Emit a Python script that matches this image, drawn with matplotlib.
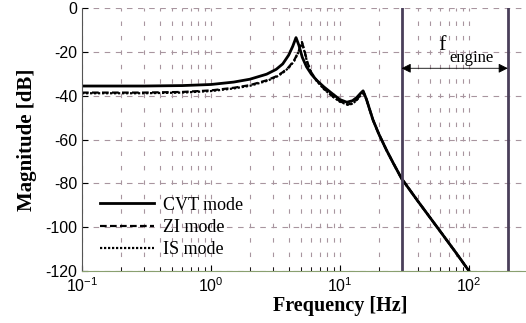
import numpy as np
import matplotlib.pyplot as plt

# frequency response
freq_cvt = [0.1, 0.3, 0.6, 1.0, 1.5, 2.0, 2.7, 3.2, 3.6, 4.0, 4.3, 4.56, 4.8, 5.1,
            5.5, 6.0, 6.6, 7.5, 8.8, 10.0, 11.3, 12.5, 13.5, 14.5, 15.1, 16.0,
            18.0, 20.0, 23.0, 26.0, 30.0, 40.0, 60.0, 80.0, 100.0]
mag_cvt = [-35.6, -35.6, -35.4, -34.9, -33.8, -32.5, -30.2, -28.0, -25.5, -21.5, -17.5, -13.5,
           -17.0, -22.5, -26.8, -30.2, -33.0, -36.0, -39.3, -41.8, -43.0, -42.3, -40.8, -38.8,
           -37.8, -41.5, -51.0, -57.5, -65.0, -71.0, -77.8, -88.0, -102.0, -112.0, -120.0]

freq_zi = [0.1, 0.3, 0.6, 1.0, 1.5, 2.0, 2.7, 3.2, 3.6, 4.0, 4.4, 4.8, 5.07, 5.3,
           5.6, 6.0, 6.6, 7.5, 8.8, 10.0, 11.5, 12.5, 13.5, 14.5, 15.2, 16.0,
           18.0, 20.0, 23.0, 26.0, 30.0, 40.0, 60.0, 80.0, 100.0]
mag_zi = [-38.6, -38.6, -38.3, -37.6, -36.4, -35.2, -33.0, -31.2, -29.3, -27.0, -24.0, -19.5, -15.5,
          -19.5, -25.0, -29.5, -33.0, -36.8, -40.3, -42.6, -44.0, -43.5, -41.8, -39.5,
          -38.3, -41.5, -51.0, -57.5, -65.0, -71.0, -77.8, -88.0, -102.0, -112.0, -120.0]

freq_is = freq_zi
mag_is = [-38.9, -38.9, -38.6, -37.9, -36.7, -35.5, -33.3, -31.5, -29.6, -27.3, -24.3, -19.8, -15.8,
          -19.8, -25.3, -29.8, -33.3, -37.0, -40.5, -42.8, -44.2, -43.7, -42.0, -39.7,
          -38.5, -41.6, -51.0, -57.5, -65.0, -71.0, -77.8, -88.0, -102.0, -112.0, -120.0]

f_low = 30
f_high = 200

xticks = [0.1, 1, 10, 100]
yticks = [0, -20, -40, -60, -80, -100, -120]

serif = ['Liberation Serif', 'DejaVu Serif']
gridcol = '#a8959f'
plt.rcParams['axes.unicode_minus'] = False
plt.rcParams['font.family'] = ['Liberation Sans', 'DejaVu Sans']

fig = plt.figure(figsize=(5.26, 3.23), dpi=100)
ax = fig.add_axes([82/526, 52/323, 516/526, 263/323])

ax.semilogx(freq_cvt, mag_cvt, color='black', lw=2.0, label='CVT mode')
ax.semilogx(freq_zi, mag_zi, color='black', lw=1.6, ls=(0, (3, 1.5)), label='ZI mode')
ax.semilogx(freq_is, mag_is, color='black', lw=1.6, ls=(0, (1, 0.8)), label='IS mode')

ax.set_xlim(0.1, 1000)
ax.set_ylim(-120, 0)
ax.set_xticks(xticks)
ax.set_yticks(yticks)

# matlab-like grid
ax.grid(True, which='major', axis='y', color=gridcol, ls=(0, (5, 5)), lw=0.8)
ax.grid(True, which='both', axis='x', color=gridcol, ls=(0, (4, 9)), lw=0.8)
ax.tick_params(which='both', direction='in', labelsize=11.5)
ax.tick_params(which='major', length=4)
ax.tick_params(which='minor', length=3)
for s in ['top', 'right']:
    ax.spines[s].set_visible(False)
ax.spines['left'].set_color('#555555')
ax.spines['bottom'].set_color('#8aa070')

# engine frequency band
ax.axvline(f_low, color='#4a3f5a', lw=2)
ax.axvline(f_high, color='#4a3f5a', lw=2)
ax.annotate('', xy=(f_low, -27.5), xytext=(f_high, -27.5),
            arrowprops=dict(arrowstyle='<|-|>', color='black', lw=0.6,
                            mutation_scale=14, shrinkA=0, shrinkB=0))
ax.text(62, -21.5, 'f', fontsize=16, family=serif, ha='center', va='bottom')
ax.text(70, -19.0, 'engine', fontsize=12, family=serif, ha='left', va='top')

ax.set_xlabel('Frequency [Hz]', fontsize=14.5, family=serif, fontweight='bold', labelpad=1)
ax.set_ylabel('Magnitude [dB]', fontsize=15, family=serif, fontweight='bold', labelpad=6)

ax.legend(loc='lower left', bbox_to_anchor=(0.01, 0.0), frameon=False,
          prop={'family': serif, 'size': 13}, handlelength=3.0, handletextpad=0.5,
          labelspacing=0.3, borderaxespad=0.3)

fig.savefig('out.png', dpi=100)
